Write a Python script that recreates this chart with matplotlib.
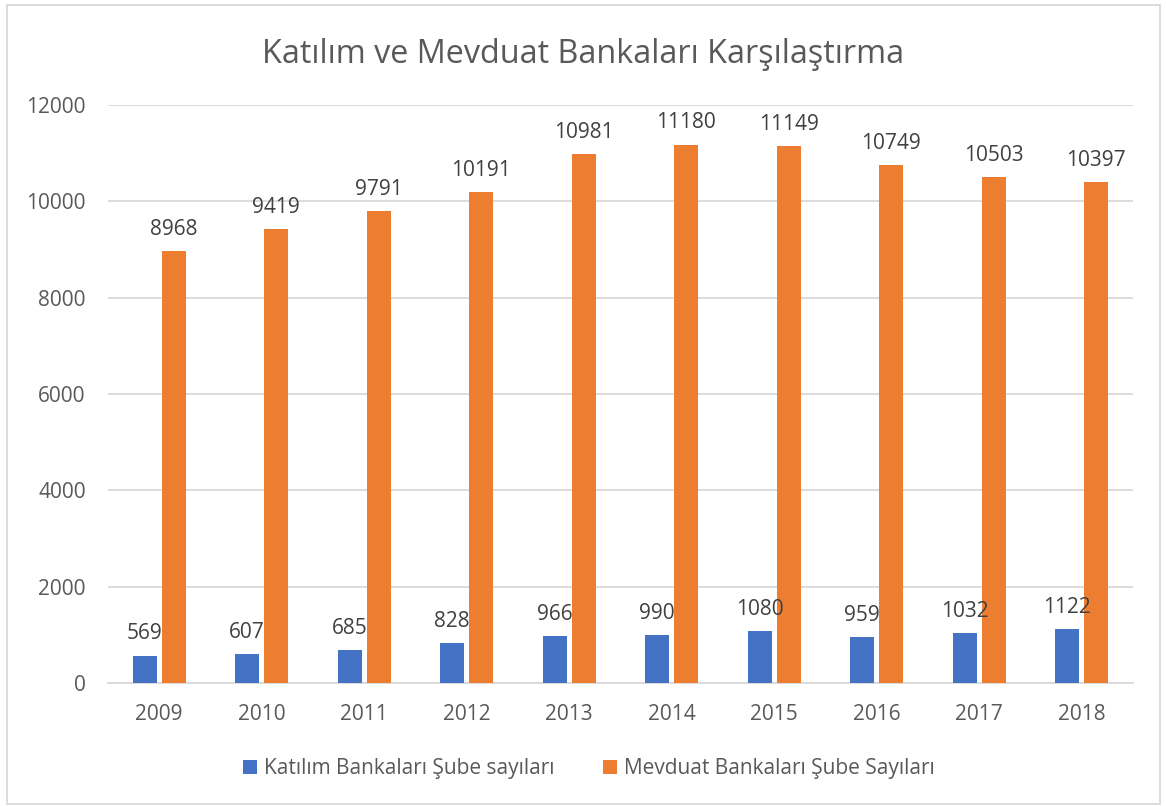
import matplotlib.pyplot as plt
import numpy as np
from matplotlib.patches import Rectangle

plt.rcParams['font.family'] = ['Open Sans', 'DejaVu Sans']

years = ['2009', '2010', '2011', '2012', '2013', '2014', '2015', '2016', '2017', '2018']
katilim = [569, 607, 685, 828, 966, 990, 1080, 959, 1032, 1122]
mevduat = [8968, 9419, 9791, 10191, 10981, 11180, 11149, 10749, 10503, 10397]

blue = '#4472C4'
orange = '#ED7D31'
grid_c = '#D9D9D9'
text_c = '#595959'
label_c = '#404040'

fig = plt.figure(figsize=(11.66, 8.06), dpi=100)
ax = fig.add_axes([0.0926, 0.1526, 0.879, 0.7171])

x = np.arange(len(years))
w = 0.234
off = 0.142
b1 = ax.bar(x - off, katilim, w, color=blue, label='Katılım Bankaları Şube sayıları', zorder=3)
b2 = ax.bar(x + off, mevduat, w, color=orange, label='Mevduat Bankaları Şube Sayıları', zorder=3)

for bars in (b1, b2):
    for r in bars:
        ax.annotate(str(int(r.get_height())), (r.get_x() + r.get_width() / 2, r.get_height()),
                    xytext=(0, 8), textcoords='offset points', ha='center', va='bottom',
                    fontsize=15, color=label_c)

ax.set_xlim(-0.5, len(years) - 0.5)
ax.set_ylim(0, 12000)
ax.set_yticks(range(0, 12001, 2000))
ax.set_xticks(x)
ax.set_xticklabels(years)
ax.yaxis.grid(True, color=grid_c, linewidth=1.3, zorder=0)
for s in ['top', 'right', 'left']:
    ax.spines[s].set_visible(False)
ax.spines['bottom'].set_color(grid_c)
ax.spines['bottom'].set_linewidth(1.3)
ax.tick_params(axis='both', length=0, labelsize=15, labelcolor=text_c)
ax.tick_params(axis='x', pad=15)
ax.tick_params(axis='y', pad=16)

fig.text(0.5, 0.933, 'Katılım ve Mevduat Bankaları Karşılaştırma', ha='center', va='center',
         fontsize=23.3, color=text_c)

fig.legend(loc='center', bbox_to_anchor=(0.505, 0.046), ncol=2, frameon=False,
           fontsize=15, labelcolor=text_c, handlelength=0.67, handleheight=0.67,
           columnspacing=2.3, handletextpad=0.35)

fig.patches.append(Rectangle((0.006, 0.002), 0.989, 0.992, transform=fig.transFigure,
                             fill=False, edgecolor=grid_c, linewidth=1.3))

fig.savefig('out.png', dpi=100)
